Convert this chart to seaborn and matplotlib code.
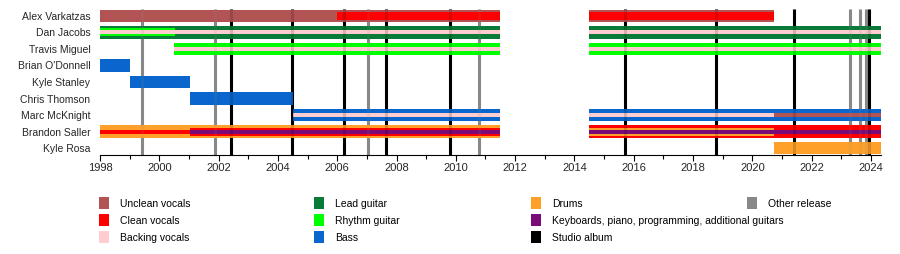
import matplotlib
matplotlib.use("Agg")
import matplotlib.pyplot as plt
import seaborn as sns
import pandas as pd
from matplotlib.patches import Rectangle

# ---------------- data ----------------
members = ["Alex Varkatzas", "Dan Jacobs", "Travis Miguel", "Brian O'Donnell",
           "Kyle Stanley", "Chris Thomson", "Marc McKnight", "Brandon Saller", "Kyle Rosa"]

seg_member = ["Alex Varkatzas", "Alex Varkatzas", "Alex Varkatzas", "Alex Varkatzas",
              "Dan Jacobs", "Dan Jacobs", "Dan Jacobs", "Dan Jacobs", "Dan Jacobs",
              "Travis Miguel", "Travis Miguel", "Travis Miguel", "Travis Miguel",
              "Brian O'Donnell", "Kyle Stanley", "Chris Thomson",
              "Marc McKnight", "Marc McKnight", "Marc McKnight", "Marc McKnight", "Marc McKnight",
              "Brandon Saller", "Brandon Saller", "Brandon Saller", "Brandon Saller",
              "Brandon Saller", "Brandon Saller", "Brandon Saller",
              "Kyle Rosa"]
seg_role = ["Unclean vocals", "Unclean vocals", "Clean vocals", "Clean vocals",
            "Lead guitar", "Lead guitar", "Rhythm guitar", "Backing vocals", "Backing vocals",
            "Rhythm guitar", "Rhythm guitar", "Backing vocals", "Backing vocals",
            "Bass", "Bass", "Bass",
            "Bass", "Bass", "Backing vocals", "Backing vocals", "Unclean vocals",
            "Drums", "Clean vocals", "Clean vocals", "Keyboards",
            "Clean vocals", "Drums", "Keyboards",
            "Drums"]
seg_start = [1998.0, 2014.5, 2006.0, 2014.5,
             1998.0, 2014.5, 1998.0, 1998.0, 2014.5,
             2000.5, 2014.5, 2000.5, 2014.5,
             1998.0, 1999.0, 2001.03,
             2004.5, 2014.5, 2004.5, 2014.5, 2020.74,
             1998.0, 1998.0, 2001.03, 2001.03,
             2014.5, 2014.5, 2014.5,
             2020.74]
seg_end = [2011.5, 2020.74, 2011.5, 2020.74,
           2011.5, 2024.34, 2000.53, 2011.5, 2024.34,
           2011.5, 2024.34, 2011.5, 2024.34,
           1999.0, 2001.03, 2004.5,
           2011.5, 2024.34, 2011.5, 2020.74, 2024.34,
           2011.5, 2001.03, 2011.5, 2011.5,
           2024.34, 2020.74, 2024.34,
           2024.34]
seg_layer = ["full", "full", "mid", "mid",
             "full", "full", "mid", "thin", "thin",
             "full", "full", "thin", "thin",
             "full", "full", "full",
             "full", "full", "thin", "thin", "thin",
             "full", "thin", "mid", "thin",
             "full", "mid", "thin",
             "full"]

studio_albums = [2002.42, 2004.49, 2006.23, 2007.65, 2009.82, 2015.72, 2018.79, 2021.42, 2023.95]
other_releases = [1999.43, 2001.89, 2007.05, 2010.79, 2023.30, 2023.63, 2023.82]

role_colors = {
    "Unclean vocals": "#B35454",
    "Clean vocals": "#FF0000",
    "Backing vocals": "#FFCDD0",
    "Lead guitar": "#0A7A38",
    "Rhythm guitar": "#00FF00",
    "Bass": "#0A66CC",
    "Drums": "#FFA02A",
    "Keyboards": "#7A0A78",
}
legend_labels = [["Unclean vocals", "Clean vocals", "Backing vocals"],
                 ["Lead guitar", "Rhythm guitar", "Bass"],
                 ["Drums", "Keyboards, piano, programming, additional guitars", "Studio album"],
                 ["Other release"]]
legend_colors = [["#B35454", "#FF0000", "#FFCDD0"],
                 ["#0A7A38", "#00FF00", "#0A66CC"],
                 ["#FFA02A", "#7A0A78", "#000000"],
                 ["#888888"]]

x_ticks = list(range(1998, 2025, 2))
x_min, x_max = 1998.0, 2024.34

# ---------------- style ----------------
sns.set_theme(style="white")
plt.rcParams["font.family"] = ["Liberation Sans", "DejaVu Sans"]

df = pd.DataFrame({"member": seg_member, "role": seg_role,
                   "start": seg_start, "end": seg_end, "layer": seg_layer})
heights = {"full": 0.75, "mid": 0.5, "thin": 0.26}
zorders = {"full": 3, "mid": 4, "thin": 5}

fig = plt.figure(figsize=(9.0, 2.54), dpi=100)
W, H = 900, 254
ax = fig.add_axes([100 / W, 99.5 / H, 781 / W, 145 / H])

ypos = {m: i for i, m in enumerate(members)}
y_top, y_bot = -0.38, 8.38

for _, r in df.iterrows():
    ax.barh(ypos[r.member], r.end - r.start, left=r.start, height=heights[r.layer],
            color=role_colors[r.role], zorder=zorders[r.layer], linewidth=0)

# vertical release lines (behind bars, plus faint overlay)
ax.vlines(other_releases, y_top, y_bot, colors="#888888", linewidth=2.2, zorder=1)
ax.vlines(studio_albums, y_top, y_bot, colors="#000000", linewidth=2.2, zorder=2)
ax.vlines(other_releases, y_top, y_bot, colors="#888888", linewidth=2.2, zorder=6, alpha=0.12)
ax.vlines(studio_albums, y_top, y_bot, colors="#000000", linewidth=2.2, zorder=6, alpha=0.15)

ax.set_xlim(x_min, x_max)
ax.set_ylim(y_bot, y_top)
ax.set_yticks(range(len(members)))
ax.set_yticklabels(members, fontsize=7.5)
ax.set_xticks(x_ticks)
ax.set_xticklabels([str(t) for t in x_ticks], fontsize=8)
ax.set_xticks(range(1999, 2025, 2), minor=True)
ax.tick_params(axis="y", length=0, pad=7)
ax.tick_params(axis="x", which="major", direction="out", length=4, width=0.8, color="black", pad=2, bottom=True)
ax.tick_params(axis="x", which="minor", direction="out", length=3, width=0.8, color="black", bottom=True)
for s in ["top", "right", "left"]:
    ax.spines[s].set_visible(False)
ax.spines["bottom"].set_color("black")
ax.spines["bottom"].set_linewidth(0.8)
ax.grid(False)
ax.set_xlabel("")
ax.set_ylabel("")

# ---------------- legend ----------------
col_x = [99, 314, 531, 747]
row_y = [203, 220, 237]
for ci, (labs, cols) in enumerate(zip(legend_labels, legend_colors)):
    for ri, (lab, colr) in enumerate(zip(labs, cols)):
        x0 = col_x[ci]
        yc = row_y[ri]
        fig.patches.append(Rectangle((x0 / W, 1 - (yc + 6) / H), 10 / W, 12 / H,
                                     transform=fig.transFigure, facecolor=colr,
                                     edgecolor="none", figure=fig))
        fig.text((x0 + 21) / W, 1 - (yc + 1) / H, lab, fontsize=7.5,
                 va="center", ha="left", color="black")

fig.savefig("out.png", dpi=100)
